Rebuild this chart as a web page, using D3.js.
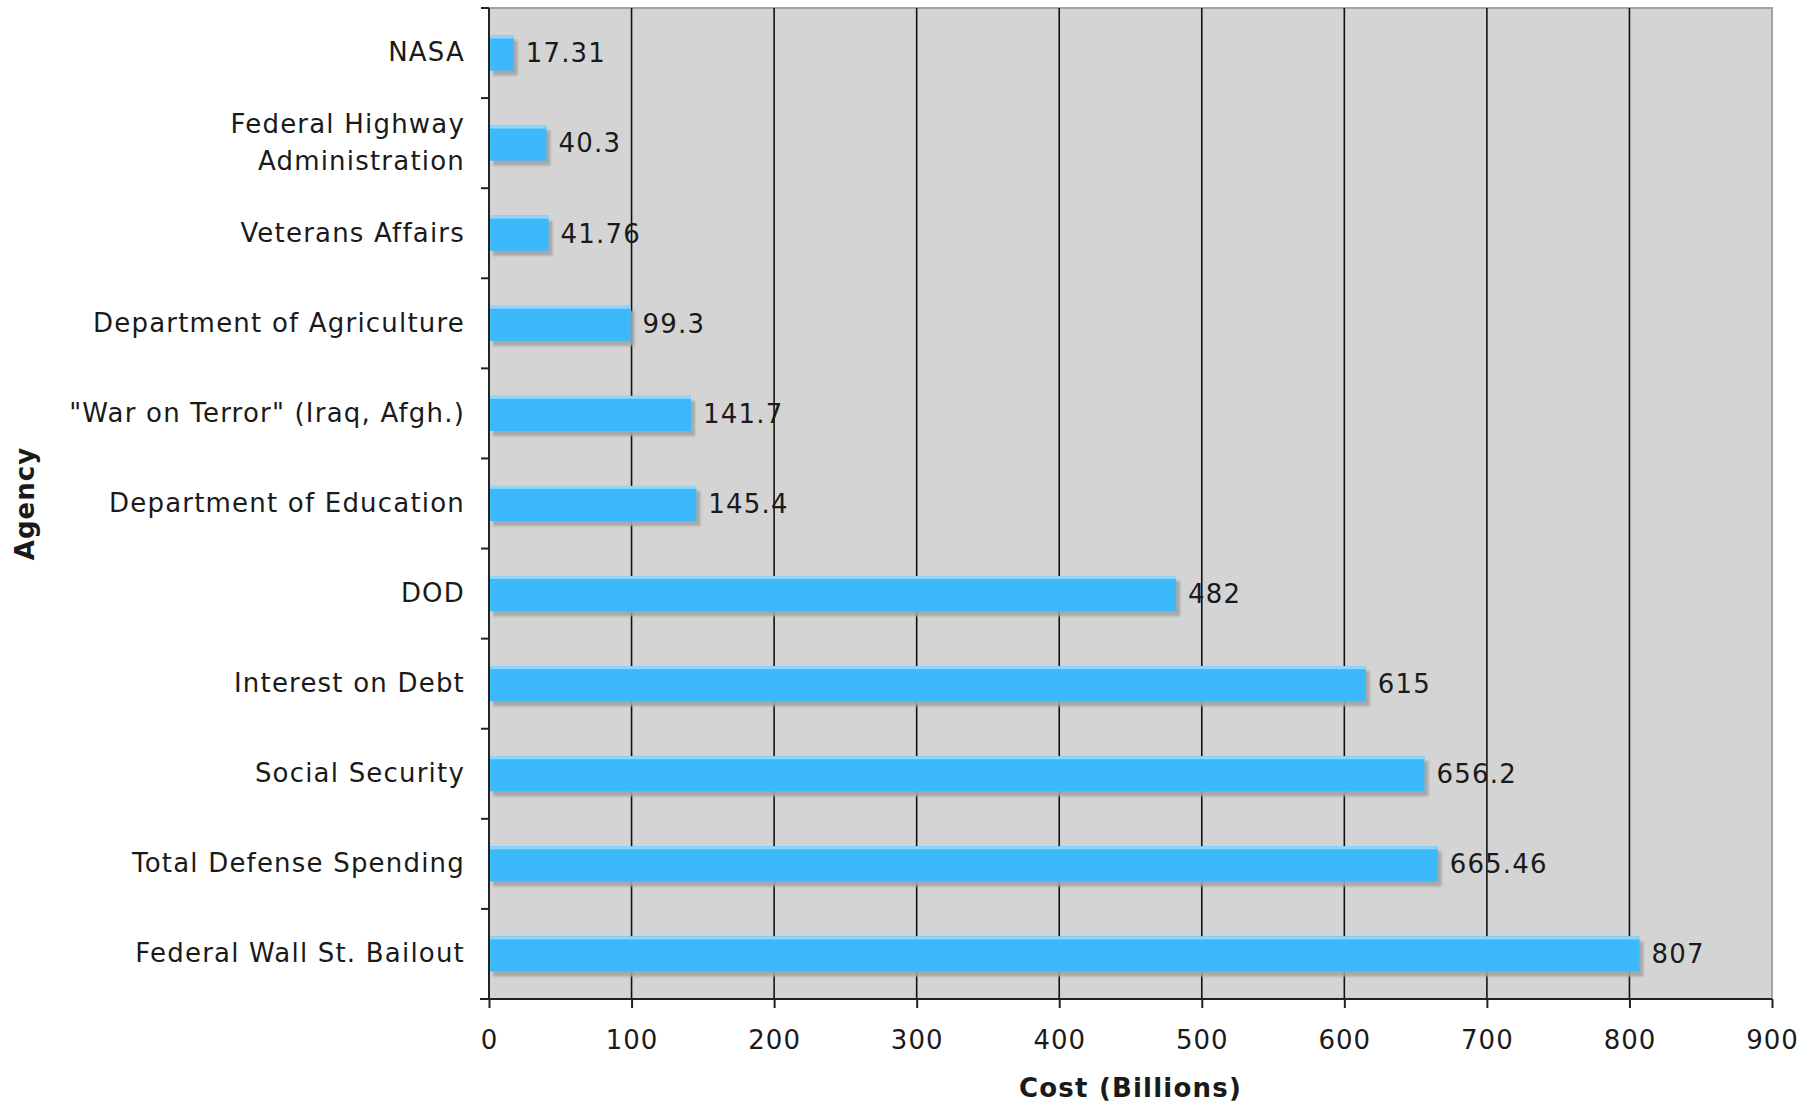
<!DOCTYPE html>
<html><head><meta charset="utf-8">
<script src="https://cdn.jsdelivr.net/npm/d3@7"></script>
<style>
html,body{margin:0;padding:0;background:#fff;}
svg{display:block;}
text{font-family:"DejaVu Sans",Verdana,sans-serif;fill:#1a1a1a;}
</style></head>
<body>
<script>
const categories = ["NASA","Federal Highway\nAdministration","Veterans Affairs","Department of Agriculture","\"War on Terror\" (Iraq, Afgh.)","Department of Education","DOD","Interest on Debt","Social Security","Total Defense Spending","Federal Wall St. Bailout"];
const values = [17.31,40.3,41.76,99.3,141.7,145.4,482,615,656.2,665.46,807];
const valueLabels = ["17.31","40.3","41.76","99.3","141.7","145.4","482","615","656.2","665.46","807"];
const xTicks = [0,100,200,300,400,500,600,700,800,900];
const xTitle = "Cost (Billions)";
const yTitle = "Agency";

const W = 1818, H = 1105;
const L = 489, R = 1772, T = 8, B = 999;
const svg = d3.select("body").append("svg").attr("width", W).attr("height", H);

const x = d3.scaleLinear().domain([0, 900]).range([L, R]);
const y = d3.scaleBand().domain(categories).range([T, B]).paddingInner(0.61).paddingOuter(0.305);
const band = d3.scaleBand().domain(categories).range([T, B]);

// plot background
svg.append("rect").attr("x", L).attr("y", T).attr("width", R - L).attr("height", B - T).attr("fill", "#d4d4d4");
svg.append("path").attr("d", `M${L},${T}H${R}V${B}`).attr("fill", "none").attr("stroke", "#a3a3a3").attr("stroke-width", 2);

// gridlines
svg.append("g").selectAll("line").data(xTicks.filter(d => d > 0 && d < 900)).join("line")
  .attr("x1", d => x(d)).attr("x2", d => x(d)).attr("y1", T).attr("y2", B)
  .attr("stroke", "#111").attr("stroke-width", 1.6);

// bar shadows
const defs = svg.append("defs");
defs.append("filter").attr("id", "blur").append("feGaussianBlur").attr("stdDeviation", 1.2);
svg.append("g").selectAll("rect").data(values).join("rect")
  .attr("x", x(0) + 4).attr("y", (d, i) => y(categories[i]) + 5)
  .attr("width", d => x(d) - x(0)).attr("height", y.bandwidth())
  .attr("fill", "#a4a4a4").attr("opacity", 0.9).attr("filter", "url(#blur)");
// bars
svg.append("g").selectAll("rect").data(values).join("rect")
  .attr("x", x(0)).attr("y", (d, i) => y(categories[i]))
  .attr("width", d => x(d) - x(0)).attr("height", y.bandwidth())
  .attr("fill", "#3bb9fb");
svg.append("g").selectAll("rect").data(values).join("rect")
  .attr("x", x(0)).attr("y", (d, i) => y(categories[i]))
  .attr("width", d => x(d) - x(0)).attr("height", 3)
  .attr("fill", "#8fd6fc");

// value labels
svg.append("g").selectAll("text").data(values).join("text")
  .attr("x", d => x(d) + 12).attr("y", (d, i) => y(categories[i]) + y.bandwidth() / 2)
  .attr("dy", "0.36em").attr("font-size", 26).attr("letter-spacing", 1.2)
  .text((d, i) => valueLabels[i]);

// x axis
const xAxis = d3.axisBottom(x).tickValues(xTicks).tickSize(9).tickPadding(23).tickFormat(d3.format("d"));
const gx = svg.append("g").attr("transform", `translate(0,${B})`).call(xAxis);
gx.select(".domain").attr("stroke", "#222").attr("stroke-width", 2).attr("d", `M${L - 9},0H${R}`);
gx.selectAll(".tick line").attr("stroke", "#222").attr("stroke-width", 2);
gx.selectAll(".tick text").attr("font-size", 26).attr("letter-spacing", 1.0).attr("fill", "#1a1a1a")
  .attr("font-family", "DejaVu Sans, Verdana, sans-serif");

// y axis (ticks at band boundaries)
const gy = svg.append("g");
gy.append("line").attr("x1", L).attr("x2", L).attr("y1", T).attr("y2", B).attr("stroke", "#222").attr("stroke-width", 2);
gy.selectAll("line.t").data(categories.concat(["end"])).join("line").attr("class", "t")
  .attr("x1", L - 8).attr("x2", L)
  .attr("y1", (d, i) => i < categories.length ? band(d) : B)
  .attr("y2", (d, i) => i < categories.length ? band(d) : B)
  .attr("stroke", "#222").attr("stroke-width", 2);
const labels = gy.selectAll("text").data(categories).join("text")
  .attr("x", L - 24).attr("text-anchor", "end").attr("font-size", 26).attr("letter-spacing", 1.2);
labels.each(function(d) {
  const lines = d.split("\n");
  const cy = band(d) + band.bandwidth() / 2;
  const lh = 37;
  const t = d3.select(this);
  lines.forEach((ln, k) => {
    t.append("tspan").attr("x", L - 24)
      .attr("y", cy + (k - (lines.length - 1) / 2) * lh - 1).attr("dy", "0.36em").text(ln);
  });
});

// titles
svg.append("text").attr("x", (L + R) / 2).attr("y", 1088).attr("dy", "0.36em")
  .attr("text-anchor", "middle").attr("font-size", 26).attr("font-weight", "bold").attr("letter-spacing", 1.2).text(xTitle);
svg.append("text").attr("transform", `translate(25,${(T + B) / 2}) rotate(-90)`).attr("dy", "0.36em")
  .attr("text-anchor", "middle").attr("font-size", 26).attr("font-weight", "bold").attr("letter-spacing", 1.0).text(yTitle);
</script>
</body></html>
